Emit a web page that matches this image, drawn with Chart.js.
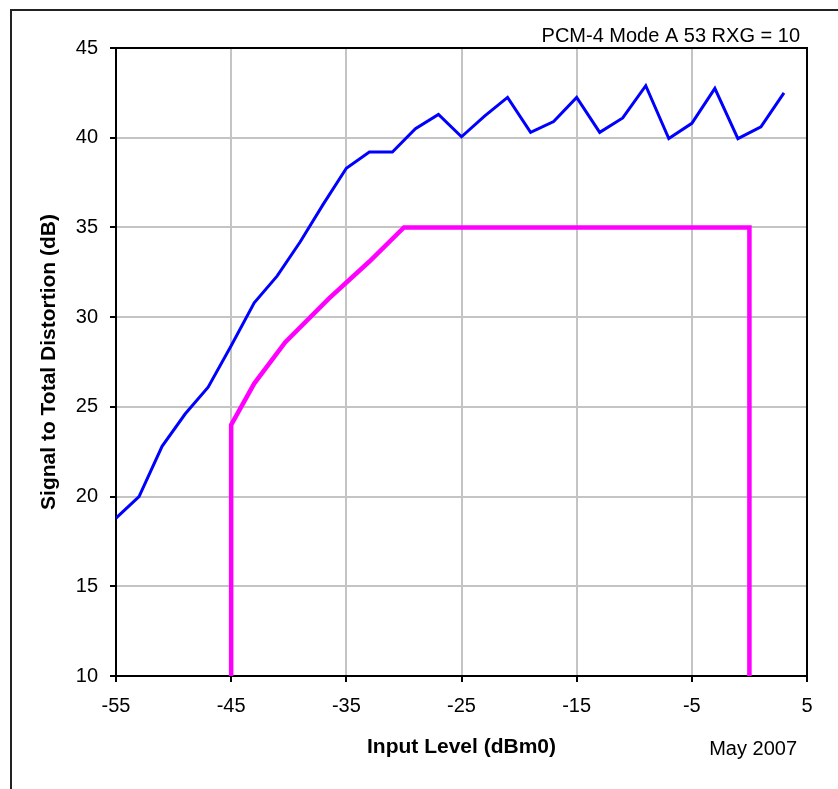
<!DOCTYPE html>
<html>
<head>
<meta charset="utf-8">
<script src="https://cdn.jsdelivr.net/npm/chart.js@4"></script>
<style>
  html, body { margin: 0; padding: 0; background: #fff; }
  #wrap { width: 838px; height: 789px; }
</style>
</head>
<body>
<div id="wrap"><canvas id="sinadChart" width="838" height="789"></canvas></div>
<script>
// measured curve (blue), read every 2 dB
const inputLevel = [-55, -53, -51, -49, -47, -45, -43, -41, -39, -37, -35, -33, -31, -29, -27,
                    -25, -23, -21, -19, -17, -15, -13, -11, -9, -7, -5, -3, -1, 1, 3];
const sinad = [18.8, 20.0, 22.8, 24.6, 26.1, 28.4, 30.8, 32.3, 34.2, 36.3, 38.3, 39.2, 39.2, 40.5, 41.3,
               40.05, 41.2, 42.25, 40.3, 40.9, 42.25, 40.3, 41.1, 42.9, 39.95, 40.8, 42.75, 39.95, 40.6, 42.5];

// spec limit mask (magenta)
const maskLevel = [-45, -45, -43, -40.3, -36.5, -33, -30, 0, 0];
const maskLimit = [10, 24, 26.3, 28.6, 31.05, 33.1, 35, 35, 10];

const xTicks = [-55, -45, -35, -25, -15, -5, 5];
const yTicks = [10, 15, 20, 25, 30, 35, 40, 45];

const chartTitle = "PCM-4 Mode A 53 RXG = 10";
const dateNote = "May 2007";

const FONT = "'Liberation Sans', Arial, sans-serif";

// frame around the whole chart + box around the plot + corner texts
const decorPlugin = {
  id: "decor",
  beforeDatasetsDraw(chart) {
    const { ctx, chartArea: a } = chart;
    ctx.save();
    ctx.strokeStyle = "#000";
    ctx.lineWidth = 2;
    ctx.strokeRect(a.left, a.top, a.right - a.left, a.bottom - a.top);
    ctx.restore();
  },
  afterDraw(chart) {
    const { ctx } = chart;
    ctx.save();
    // outer frame (only left and top edges are inside the picture)
    ctx.strokeStyle = "#222";
    ctx.lineWidth = 2;
    ctx.beginPath();
    ctx.moveTo(11, 800);
    ctx.lineTo(11, 10);
    ctx.lineTo(850, 10);
    ctx.stroke();

    ctx.fillStyle = "#000";
    ctx.font = "20px " + FONT;
    ctx.textAlign = "right";
    ctx.textBaseline = "alphabetic";
    ctx.fillText(chartTitle, 800, 42);
    ctx.fillText(dateNote, 797, 755);
    ctx.restore();
  }
};

const sinadData = inputLevel.map((x, i) => ({ x: x, y: sinad[i] }));
const maskData = maskLevel.map((x, i) => ({ x: x, y: maskLimit[i] }));

new Chart(document.getElementById("sinadChart"), {
  type: "line",
  data: {
    datasets: [
      {
        label: "Measured",
        data: sinadData,
        borderColor: "#0000ff",
        borderWidth: 3,
        pointRadius: 0,
        tension: 0,
      },
      {
        label: "Limit",
        data: maskData,
        borderColor: "#ff00ff",
        borderWidth: 4.5,
        pointRadius: 0,
        tension: 0,
      },
    ],
  },
  options: {
    responsive: false,
    animation: false,
    devicePixelRatio: 1,
    layout: { padding: { top: 48, right: 31, left: 0, bottom: 0 } },
    plugins: {
      legend: { display: false },
      tooltip: { enabled: false },
    },
    scales: {
      x: {
        type: "linear",
        min: -55,
        max: 5,
        afterBuildTicks: (scale) => { scale.ticks = xTicks.map((v) => ({ value: v })); },
        afterFit: (scale) => { scale.height = 113; },
        ticks: { color: "#000", font: { size: 20, family: FONT }, padding: 12, maxRotation: 0 },
        grid: { color: "#c4c4c4", lineWidth: 2, tickColor: "#000", tickWidth: 2, tickLength: 6 },
        border: { color: "#000", width: 2 },
        title: {
          display: true,
          text: "Input Level (dBm0)",
          color: "#000",
          font: { size: 21, weight: "bold", family: FONT },
          padding: { top: 0, bottom: 29 },
        },
      },
      y: {
        min: 10,
        max: 45,
        afterBuildTicks: (scale) => { scale.ticks = yTicks.map((v) => ({ value: v })); },
        afterFit: (scale) => { scale.width = 116; },
        ticks: { color: "#000", font: { size: 20, family: FONT }, padding: 12 },
        grid: { color: "#c4c4c4", lineWidth: 2, tickColor: "#000", tickWidth: 2, tickLength: 6 },
        border: { color: "#000", width: 2 },
        title: {
          display: true,
          text: "Signal to Total Distortion (dB)",
          color: "#000",
          font: { size: 21, weight: "bold", family: FONT },
          padding: { top: 37, bottom: 0 },
        },
      },
    },
  },
  plugins: [decorPlugin],
});
</script>
</body>
</html>
